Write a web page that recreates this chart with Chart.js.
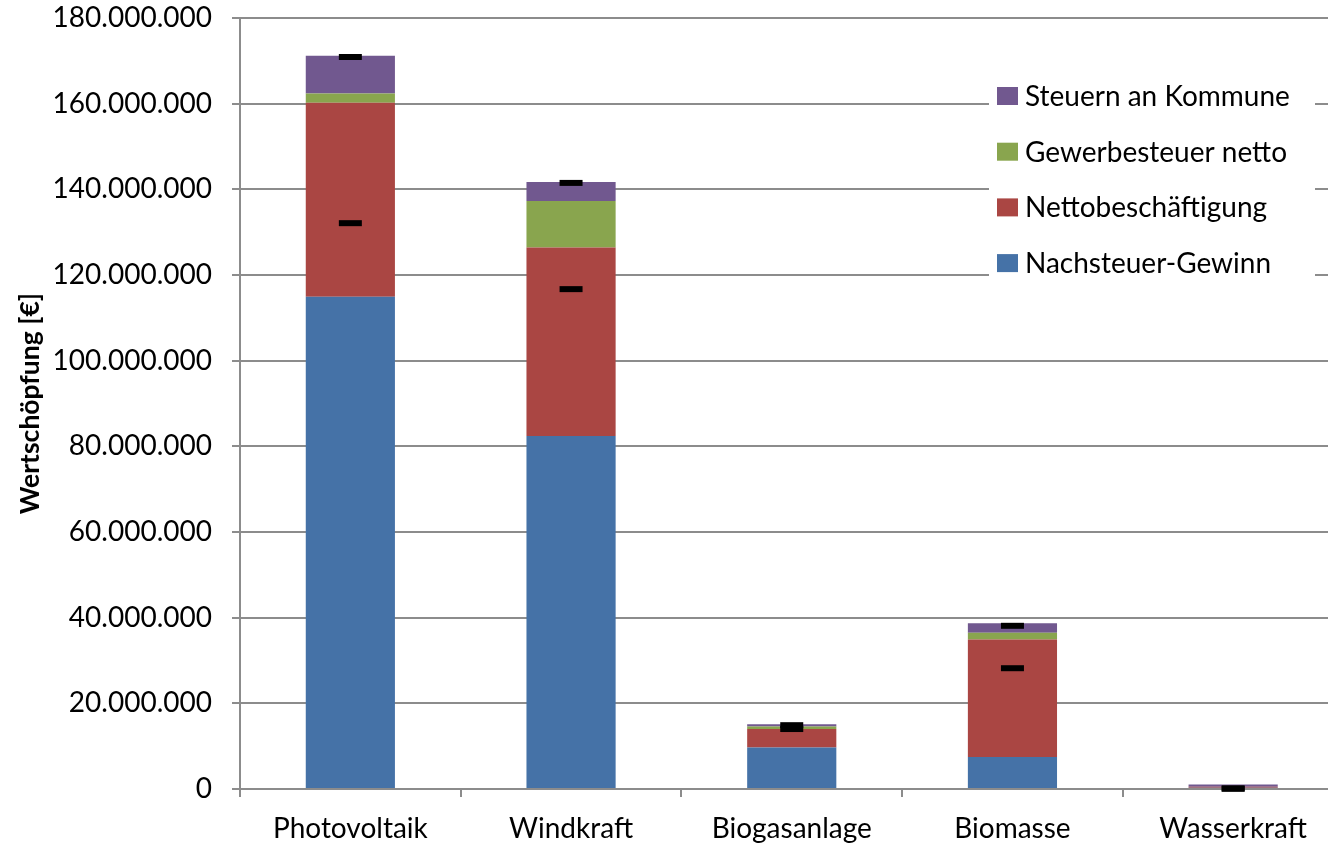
<!DOCTYPE html>
<html><head><meta charset="utf-8">
<script src="https://cdn.jsdelivr.net/npm/chart.js@4"></script>
<style>
html,body{margin:0;padding:0;background:#fff;overflow:hidden}
canvas{display:block}
</style></head>
<body><canvas id="c" width="1361" height="845"></canvas>
<script>
// Regionale Wertschöpfung je Technologie (in €)
const categories = ['Photovoltaik', 'Windkraft', 'Biogasanlage', 'Biomasse', 'Wasserkraft'];
const nachsteuerGewinn    = [114900000, 82400000, 9700000, 7500000, 300000];
const nettobeschaeftigung = [45300000, 44000000, 4300000, 27400000, 200000];
const gewerbesteuerNetto  = [2200000, 10900000, 600000, 1600000, 50000];
const steuernAnKommune    = [8800000, 4400000, 500000, 2200000, 500000];
// Vergleichswerte (Striche)
const markerOben  = [170900000, 141500000, 14900000, 38100000, 150000];
const markerUnten = [132100000, 116700000, 14000000, 28200000, 50000];
const yMin = 0, yMax = 180000000, yStep = 20000000;

const FONT = 'Lato, "Open Sans", sans-serif';
const GRID = '#8c8c8c';

function fmt(v) {
  return String(Math.round(v)).replace(/\B(?=(\d{3})+(?!\d))/g, '.');
}

const legendBox = {
  id: 'legendBox',
  afterDatasetsDraw(chart) {
    const ctx = chart.ctx;
    const items = chart.data.datasets.filter(d => d.type !== 'line').slice().reverse();
    ctx.save();
    ctx.fillStyle = '#fff';
    ctx.fillRect(989, 72, 326, 220);
    ctx.font = '28px ' + FONT;
    ctx.textBaseline = 'middle';
    ctx.textAlign = 'left';
    items.forEach((d, i) => {
      const cy = 96 + i * 55.7;
      ctx.fillStyle = d.backgroundColor;
      ctx.fillRect(997, cy - 9, 21, 18);
      ctx.fillStyle = '#000';
      ctx.fillText(d.label, 1025, cy + 1);
    });
    ctx.restore();
  }
};

const markerDs = (label, data) => ({
  type: 'line', label, data, showLine: false, stack: label,
  pointStyle: 'line', pointRadius: 11.5, pointHoverRadius: 11.5,
  borderColor: '#000', pointBorderColor: '#000', pointBorderWidth: 6,
  backgroundColor: '#000', clip: false, order: -1
});

new Chart(document.getElementById('c'), {
  type: 'bar',
  data: {
    labels: categories,
    datasets: [
      { label: 'Nachsteuer-Gewinn', data: nachsteuerGewinn, backgroundColor: '#4572a7', stack: 'a' },
      { label: 'Nettobeschäftigung', data: nettobeschaeftigung, backgroundColor: '#aa4643', stack: 'a' },
      { label: 'Gewerbesteuer netto', data: gewerbesteuerNetto, backgroundColor: '#89a54e', stack: 'a' },
      { label: 'Steuern an Kommune', data: steuernAnKommune, backgroundColor: '#71588f', stack: 'a' },
      markerDs('oben', markerOben),
      markerDs('unten', markerUnten)
    ]
  },
  options: {
    responsive: false,
    animation: false,
    devicePixelRatio: 1,
    events: [],
    layout: { padding: { top: 18, left: 0, right: 0, bottom: 0 } },
    datasets: { bar: { barPercentage: 1, categoryPercentage: 0.404 } },
    plugins: { legend: { display: false }, tooltip: { enabled: false } },
    scales: {
      x: {
        stacked: true,
        offset: true,
        grid: { drawOnChartArea: false, drawTicks: true, tickLength: 8, color: GRID, lineWidth: 2, offset: true },
        border: { color: GRID, width: 2 },
        ticks: { color: '#000', font: { family: FONT, size: 28 }, padding: 15, maxRotation: 0 },
        afterFit(s) { s.height = 56; s.paddingLeft = 0; s.paddingRight = 0; }
      },
      y: {
        stacked: true,
        min: yMin, max: yMax,
        grid: { color: GRID, lineWidth: 2, tickLength: 8 },
        border: { color: GRID, width: 2 },
        ticks: { stepSize: yStep, color: '#000', font: { family: FONT, size: 28 }, padding: 20, callback: v => fmt(v) },
        title: { display: true, text: 'Wertschöpfung [€]', color: '#000', font: { family: FONT, size: 26.5, weight: 'bold' }, padding: { top: 15, bottom: 0 } },
        afterFit(s) { s.width = 240; s.paddingTop = 0; s.paddingBottom = 0; }
      }
    }
  },
  plugins: [legendBox]
});
</script>
</body></html>
